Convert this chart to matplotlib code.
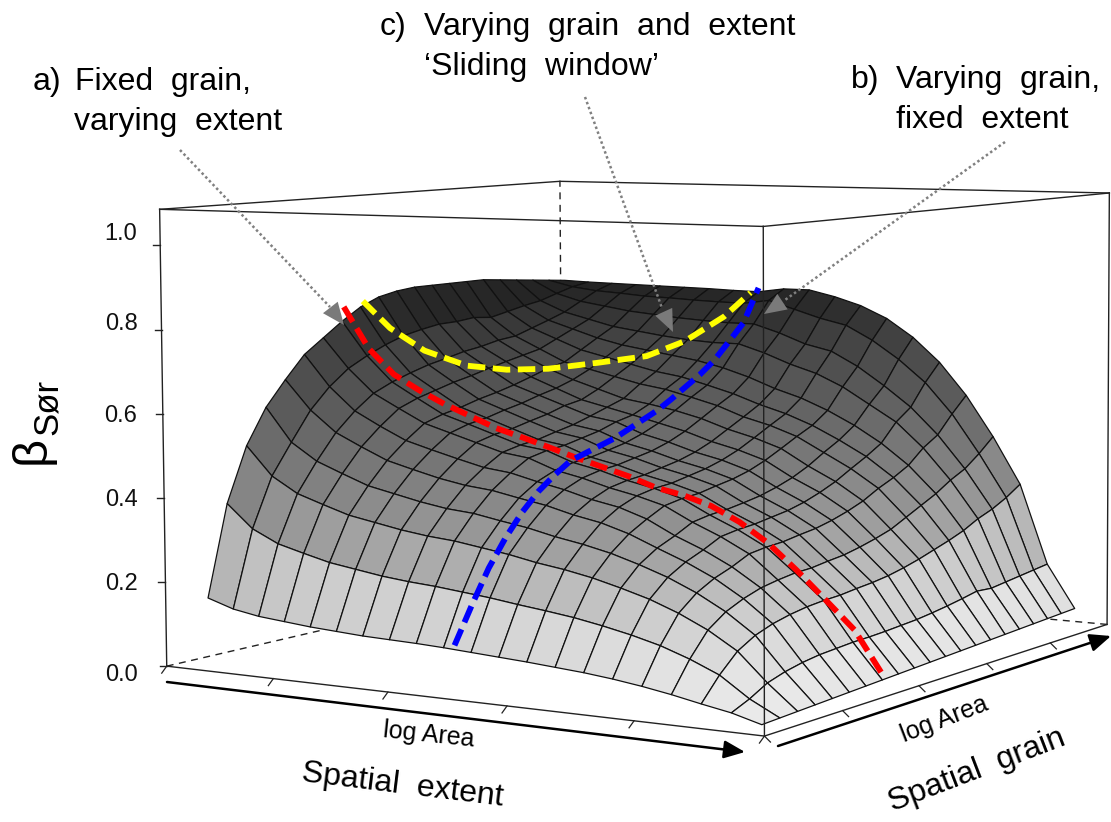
import numpy as np
import matplotlib
matplotlib.use('Agg')
import matplotlib.pyplot as plt
from matplotlib.collections import PolyCollection

plt.rcParams['font.family'] = ['Liberation Sans', 'DejaVu Sans']

# beta_sor read from the surface, rows = grain steps, columns = extent steps
beta = np.array([
    [.170, .150, .139, .133, .127, .123, .119, .117, .115, .112, .108, .104, .100, .095, .090, .083, .074, .063, .050, .038, .020],
    [.385, .330, .300, .283, .267, .257, .247, .240, .235, .228, .221, .212, .204, .195, .183, .169, .152, .129, .101, .056, .022],
    [.515, .447, .410, .389, .369, .357, .345, .336, .330, .320, .310, .297, .287, .274, .257, .238, .213, .182, .142, .079, .024],
    [.600, .520, .479, .454, .430, .416, .402, .391, .385, .373, .362, .347, .335, .320, .300, .277, .248, .212, .166, .092, .026],
    [.660, .590, .540, .510, .482, .465, .449, .437, .430, .417, .405, .388, .375, .355, .328, .302, .271, .231, .181, .101, .028],
    [.715, .640, .585, .552, .522, .504, .487, .471, .463, .447, .433, .415, .402, .380, .347, .320, .287, .245, .191, .107, .030],
    [.750, .678, .621, .588, .556, .537, .518, .499, .490, .466, .452, .434, .420, .402, .369, .341, .307, .253, .198, .110, .032],
    [.785, .703, .642, .606, .571, .551, .530, .509, .500, .476, .462, .443, .429, .410, .377, .348, .313, .259, .202, .113, .034],
    [.815, .724, .658, .619, .581, .559, .537, .515, .505, .481, .467, .448, .433, .414, .381, .352, .316, .261, .204, .114, .036],
    [.835, .741, .672, .632, .594, .571, .548, .526, .515, .490, .476, .457, .442, .423, .388, .359, .323, .267, .209, .116, .038],
    [.845, .751, .682, .642, .604, .581, .558, .536, .525, .500, .485, .466, .451, .431, .396, .366, .329, .272, .213, .119, .040],
    [.850, .759, .693, .654, .616, .594, .572, .550, .540, .515, .499, .479, .464, .443, .408, .377, .339, .281, .219, .122, .042],
    [.850, .760, .700, .665, .630, .605, .580, .565, .550, .534, .518, .497, .481, .460, .423, .392, .352, .292, .228, .127, .044],
    [.850, .765, .710, .675, .645, .620, .600, .580, .570, .558, .542, .520, .503, .481, .443, .410, .368, .305, .239, .133, .046],
    [.850, .760, .715, .685, .655, .640, .625, .610, .600, .584, .567, .543, .526, .503, .468, .433, .390, .325, .252, .140, .048],
    [.850, .770, .730, .705, .680, .665, .650, .635, .625, .608, .590, .567, .548, .523, .491, .455, .408, .345, .265, .148, .050],
    [.845, .780, .745, .725, .705, .690, .680, .670, .660, .645, .625, .600, .580, .553, .520, .480, .430, .365, .280, .145, .052],
    [.840, .788, .761, .745, .729, .720, .711, .704, .700, .700, .680, .655, .635, .605, .565, .525, .465, .390, .300, .150, .054],
    [.835, .802, .784, .774, .764, .758, .752, .748, .745, .745, .725, .700, .685, .650, .605, .555, .490, .410, .315, .155, .056],
    [.830, .815, .807, .803, .798, .796, .793, .791, .790, .800, .780, .760, .745, .710, .665, .610, .535, .440, .335, .160, .058],
    [.825, .823, .822, .821, .820, .819, .818, .816, .815, .825, .825, .810, .790, .760, .715, .655, .575, .475, .360, .165, .060],
])

extent_steps = np.arange(21)
grain_steps = np.arange(21)
z_ticks = [0.0, 0.2, 0.4, 0.6, 0.8, 1.0]
z_tick_labels = ['0.0', '0.2', '0.4', '0.6', '0.8', '1.0']

# a) fixed grain, varying extent
red_grain = 7.1
red_beta = [.82, .72, .66, .625, .595, .57, .545, .527, .508, .488, .47, .452, .43, .417, .397, .365, .322, .265, .203, .14, .04]

# b) varying grain, fixed extent
blue_extent = [9.4, 9.33, 9.26, 9.19, 9.12, 9.05, 8.98, 8.9, 8.8, 8.7, 8.6, 8.5, 8.4, 8.3, 8.2, 8.15, 8.1, 8.05, 8, 8, 8]
blue_beta = [.12, .20, .275, .335, .385, .425, .455, .48, .49, .50, .51, .525, .54, .555, .575, .60, .625, .655, .695, .74, .825]

# c) sliding window
yellow_extent = [.1, .6, 1.26, 2.04, 2.82, 3.6, 4.57, 5.54, 6.32, 7.1, 7.68]
yellow_grain = [8, 8.8, 9.8, 11.1, 12.3, 13.6, 15.1, 16.7, 17.9, 19.2, 20]
yellow_beta = [.83, .76, .70, .657, .642, .639, .648, .659, .693, .752, .812]

extent_ticks = [0, .195, .396, .596, .80, 1]
grain_ticks = [0, .20, .41, .61, .81]

# box corners in the picture, used to work out the perspective
box_cube = [(0, 0, 0), (1, 0, 0), (1, 1, 0), (0, 1, 0), (0, 0, 1), (1, 0, 1), (1, 1, 1), (0, 1, 1)]
box_px = [(168, 666), (764, 737), (1108, 623), (561, 575), (159, 209), (763, 226), (1109, 194), (561, 181)]
z_top = 1.083

A = []
for (a, b, c), (px, py) in zip(box_cube, box_px):
    A.append([a, b, c, 1, 0, 0, 0, 0, -px * a, -px * b, -px * c, -px])
    A.append([0, 0, 0, 0, a, b, c, 1, -py * a, -py * b, -py * c, -py])
P = np.linalg.svd(np.array(A))[2][-1].reshape(3, 4)


def project(u, v, z):
    u, v, z = np.broadcast_arrays(np.asarray(u, float), np.asarray(v, float), np.asarray(z, float))
    w = z / z_top
    pts = np.stack([u, v, w, np.ones_like(u)], axis=-1) @ P.T
    return pts[..., 0] / pts[..., 2], pts[..., 1] / pts[..., 2]


def to_u(i):
    return 0.07 + 0.92 * np.asarray(i) / 20


def to_v(j):
    return 0.01 + 0.90 * np.asarray(j) / 20


fig = plt.figure(figsize=(11.11, 8.22), dpi=100)
ax = fig.add_axes([0, 0, 1, 1])
ax.set_xlim(0, 1111)
ax.set_ylim(822, 0)
ax.axis('off')

line_c = '#222222'


def box_line(p, q, **kw):
    x, y = project([p[0], q[0]], [p[1], q[1]], [p[2] * z_top, q[2] * z_top])
    ax.plot(x, y, color=line_c, **kw)


# hidden box edges
for p, q in [((0, 1, 0), (0, 1, 1)), ((0, 0, 0), (0, 1, 0)), ((1, 1, 0), (0, 1, 0))]:
    box_line(p, q, lw=1.0, ls=(0, (5, 4)), zorder=1)

# the surface, far cells first
uu, vv = np.meshgrid(to_u(extent_steps), to_v(grain_steps))
sx, sy = project(uu, vv, beta)
grey_z = [0.0, 0.1, 0.2, 0.3, 0.4, 0.5, 0.6, 0.7, 0.8, 0.85]
grey_v = [.93, .89, .80, .65, .54, .44, .35, .27, .16, .10]
polys, greys, order = [], [], []
for j in range(20):
    for i in range(20):
        polys.append([(sx[j, i], sy[j, i]), (sx[j, i + 1], sy[j, i + 1]),
                      (sx[j + 1, i + 1], sy[j + 1, i + 1]), (sx[j + 1, i], sy[j + 1, i])])
        zc = beta[j:j + 2, i:i + 2].mean()
        greys.append(np.interp(zc, grey_z, grey_v))
        order.append(i - j)
idx = np.argsort(order)
faces = [(greys[k], greys[k], greys[k]) for k in idx]
surf = PolyCollection([polys[k] for k in idx], facecolors=faces, edgecolors='#111111', linewidths=0.9, zorder=2)
ax.add_collection(surf)

# visible box edges
for p, q in [((0, 0, 0), (0, 0, 1)), ((1, 1, 0), (1, 1, 1)), ((0, 0, 1), (0, 1, 1)), ((0, 1, 1), (1, 1, 1)),
             ((1, 1, 1), (1, 0, 1)), ((1, 0, 1), (0, 0, 1)), ((0, 0, 0), (1, 0, 0)), ((1, 0, 0), (1, 1, 0))]:
    box_line(p, q, lw=1.0, zorder=3)
box_line((1, 0, 0), (1, 0, 1), lw=1.0, zorder=3)

# ticks
for val in z_ticks:
    x0, y0 = project(0, 0, val)
    ax.plot([x0 - 7, x0], [y0, y0], color=line_c, lw=1.0, zorder=3)
for t in extent_ticks:
    x0, y0 = project(t, 0, 0)
    ax.plot([x0 - 5, x0], [y0 + 7, y0], color=line_c, lw=0.9, zorder=3)
for t in grain_ticks:
    x0, y0 = project(1, t, 0)
    ax.plot([x0 + 6, x0], [y0 + 6, y0], color=line_c, lw=0.9, zorder=3)

# z tick labels sit a little off their ticks in the original
label_y = [675, 584, 500, 416, 324, 234]
for lab, y in zip(z_tick_labels, label_y):
    ax.text(121, y, lab, ha='center', va='center', fontsize=17, color='#111111')

# coloured curves
dash = (0, (3.0, 1.3))
rx, ry = project(to_u(extent_steps), to_v(red_grain), red_beta)
ax.plot(rx, ry, color='#ff0000', lw=4.2, ls=dash, zorder=5, dash_capstyle='butt')
bx, by = project(to_u(blue_extent), to_v(grain_steps), blue_beta)
ax.plot(bx, by, color='#0000ff', lw=4.2, ls=dash, zorder=6, dash_capstyle='butt')
yx, yy = project(to_u(yellow_extent), to_v(yellow_grain), yellow_beta)
ax.plot(yx, yy, color='#ffff00', lw=4.2, ls=dash, zorder=5, dash_capstyle='butt')

# black axis arrows
for (x0, y0), (x1, y1) in [((167, 682), (745, 752)), ((778, 746), (1111, 636))]:
    ax.annotate('', xy=(x1, y1), xytext=(x0, y0), zorder=4,
                arrowprops=dict(arrowstyle='-|>,head_length=0.75,head_width=0.32', color='black', lw=1.8,
                                shrinkA=0, shrinkB=0, mutation_scale=17))

# grey dotted pointers
pointer_c = '#7a7a7a'
for (x0, y0), (xm, ym), (x1, y1) in [((180, 150), (330, 307), (344, 325)),
                                     ((585, 97), (662, 308), (673, 332)),
                                     ((1005, 142), (785, 300), (764, 314))]:
    ax.plot([x0, xm], [y0, ym], color='#808080', lw=1.8, ls=(0, (1, 1.1)), zorder=7)
    ax.annotate('', xy=(x1, y1), xytext=(xm, ym), zorder=7,
                arrowprops=dict(arrowstyle='-|>,head_length=1.0,head_width=0.42', color=pointer_c, lw=0,
                                shrinkA=0, shrinkB=0, mutation_scale=16))

# annotation text
big = 23
ax.text(33, 82, 'a)', fontsize=big, va='center', ha='left')
ax.text(75, 82, 'Fixed  grain,', fontsize=big, va='center', ha='left')
ax.text(74, 122, 'varying  extent', fontsize=big, va='center', ha='left')
ax.text(380, 27, 'c)', fontsize=big, va='center', ha='left')
ax.text(424, 27, 'Varying  grain  and  extent', fontsize=big, va='center', ha='left')
ax.text(424, 67, '\u2018Sliding  window\u2019', fontsize=big, va='center', ha='left')
ax.text(851, 80, 'b)', fontsize=big, va='center', ha='left')
ax.text(896, 80, 'Varying  grain,', fontsize=big, va='center', ha='left')
ax.text(896, 120, 'fixed  extent', fontsize=big, va='center', ha='left')

# axis titles
ax.text(32, 450, '\u03b2', fontsize=35, rotation=90, ha='center', va='center')
ax.text(47, 407, 'S\u00f8r', fontsize=25, rotation=90, ha='center', va='center')
ax.text(429, 735, 'log Area', fontsize=18, rotation=-6, ha='center', va='center')
ax.text(944, 719, 'log Area', fontsize=18, rotation=21, ha='center', va='center')
ax.text(403, 785, 'Spatial  extent', fontsize=23, rotation=-7, ha='center', va='center')
ax.text(977, 770, 'Spatial  grain', fontsize=23, rotation=21, ha='center', va='center')

fig.savefig('out.png', dpi=100)
